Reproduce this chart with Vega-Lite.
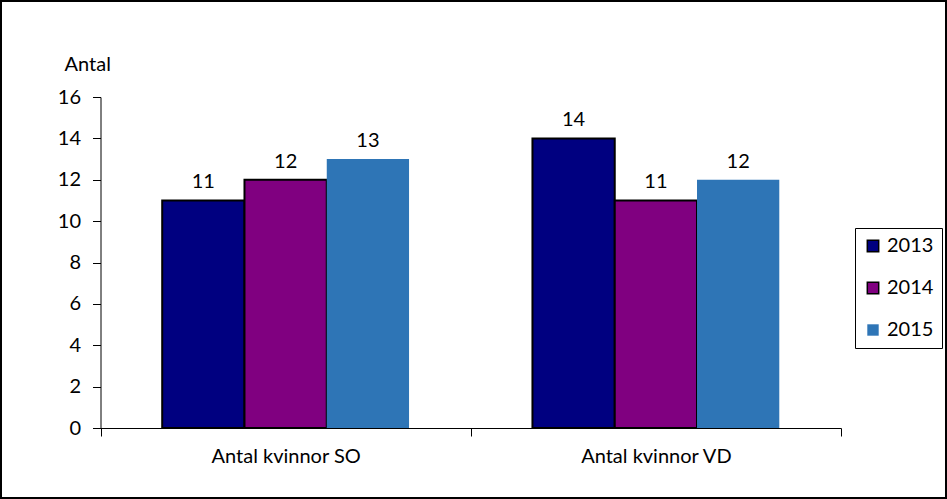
{
  "$schema": "https://vega.github.io/schema/vega-lite/v6.json",
  "width": 947,
  "height": 499,
  "autosize": {"type": "none"},
  "padding": 0,
  "background": "white",
  "config": {
    "view": {"stroke": "black", "strokeWidth": 4},
    "font": "Lato",
    "axis": {"labelFont": "Lato", "titleFont": "Lato", "labelColor": "black", "titleColor": "black", "domainColor": "black", "tickColor": "black", "grid": false}
  },
  "data": {
    "values": [
      {"cat": "Antal kvinnor SO", "year": "2013", "value": 11},
      {"cat": "Antal kvinnor SO", "year": "2014", "value": 12},
      {"cat": "Antal kvinnor SO", "year": "2015", "value": 13},
      {"cat": "Antal kvinnor VD", "year": "2013", "value": 14},
      {"cat": "Antal kvinnor VD", "year": "2014", "value": 11},
      {"cat": "Antal kvinnor VD", "year": "2015", "value": 12}
    ]
  },
  "encoding": {
    "x": {
      "field": "cat", "type": "nominal", "sort": null,
      "scale": {"range": [100.5, 841], "paddingInner": 0, "paddingOuter": 0},
      "axis": {
        "title": null, "orient": "bottom", "offset": -71, "labelAngle": 0,
        "labelFontSize": 20, "labelPadding": 10, "tickSize": 8, "tickBand": "extent",
        "domainWidth": 1, "tickWidth": 1
      }
    },
    "xOffset": {
      "field": "year", "type": "nominal",
      "scale": {"paddingInner": 0, "paddingOuter": 0.75}
    },
    "y": {
      "field": "value", "type": "quantitative",
      "scale": {"domain": [0, 16], "range": [428, 97], "nice": false, "zero": true},
      "axis": {
        "title": "Antal", "orient": "left", "offset": -100.5,
        "values": [0, 2, 4, 6, 8, 10, 12, 14, 16],
        "labelFontSize": 20, "labelPadding": 12, "tickSize": 8,
        "titleFontSize": 20, "titleFontWeight": "normal", "titleAngle": 0,
        "titleAlign": "left", "titleBaseline": "middle", "titleX": -36.5, "titleY": 64
      }
    }
  },
  "layer": [
    {
      "mark": {"type": "bar", "stroke": "black"},
      "encoding": {
        "color": {
          "field": "year", "type": "nominal",
          "scale": {"domain": ["2013", "2014", "2015"], "range": ["#000080", "#800080", "#2E75B6"]},
          "legend": {
            "title": null, "orient": "none", "legendX": 855, "legendY": 228,
            "strokeColor": "black", "fillColor": "white", "padding": 8,
            "symbolType": "square", "symbolSize": 130, "symbolStrokeColor": "black", "symbolStrokeWidth": 1.5,
            "labelFontSize": 20, "labelFont": "Lato", "labelColor": "black", "labelOffset": 4,
            "rowPadding": 22,
            "encode": {"symbols": {"update": {"strokeWidth": {"signal": "datum.label === '2015' ? 0 : 1.5"}}}}
          }
        },
        "strokeWidth": {"condition": {"test": "datum.year === '2015'", "value": 0}, "value": 2}
      }
    },
    {
      "mark": {"type": "text", "baseline": "alphabetic", "dy": -12, "fontSize": 20, "font": "Lato", "color": "black"},
      "encoding": {"text": {"field": "value", "type": "quantitative"}}
    }
  ]
}
